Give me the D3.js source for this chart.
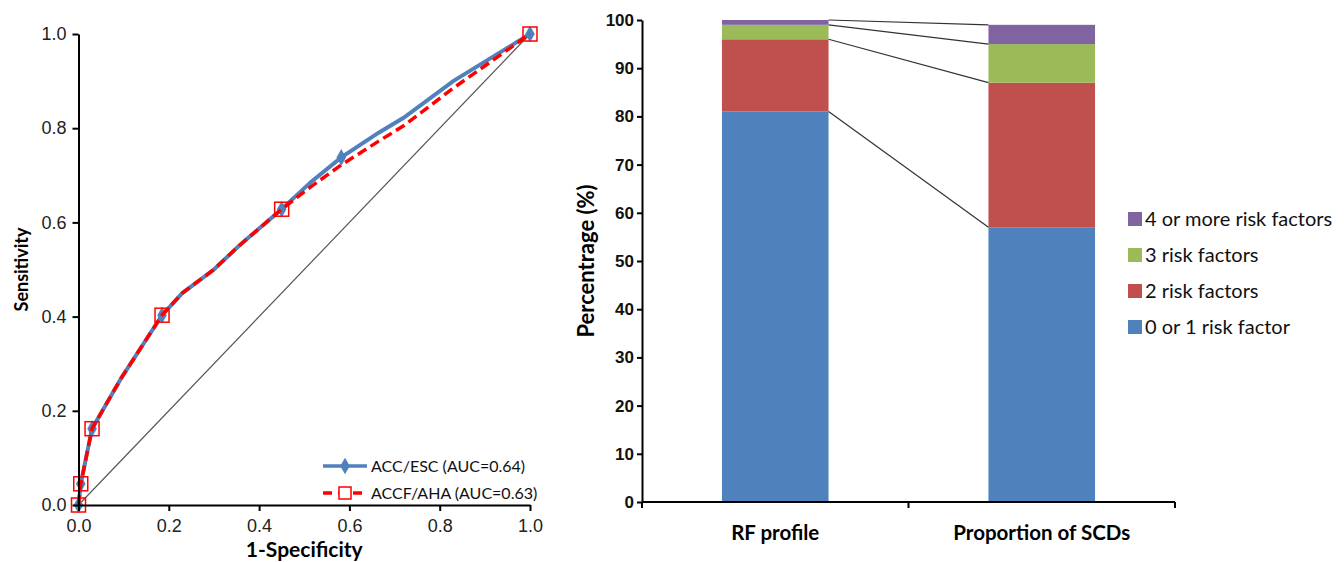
<!DOCTYPE html>
<html>
<head>
<meta charset="utf-8">
<script src="https://cdn.jsdelivr.net/npm/d3@7"></script>
<style>
  body { margin: 0; background: #fff; }
  svg { font-family: Lato, "Open Sans", sans-serif; }
  .roc-axis text { font-size: 18px; fill: #222; }
  .bar-axis text { font-size: 17px; font-weight: bold; fill: #111; }
  .domain, .tick line { stroke: #000; stroke-width: 2; }
</style>
</head>
<body>
<div id="container"></div>
<script>
// ROC curve data (1-specificity vs sensitivity)
const fpr = [0, 0.005, 0.03, 0.095, 0.185, 0.23, 0.3, 0.355, 0.45, 0.515, 0.582, 0.664, 0.72, 0.83, 1];
const accEsc = [0, 0.045, 0.162, 0.27, 0.403, 0.45, 0.5, 0.55, 0.628, 0.686, 0.738, 0.79, 0.822, 0.9, 1];
const accfAha = [0, 0.045, 0.162, 0.27, 0.403, 0.45, 0.5, 0.55, 0.628, 0.676, 0.722, 0.772, 0.805, 0.885, 1];
const escMarkers = [0, 1, 2, 4, 8, 10, 14];
const ahaMarkers = [0, 1, 2, 4, 8, 14];
const rocTicks = [0, 0.2, 0.4, 0.6, 0.8, 1.0];
const rocLegend = ['ACC/ESC (AUC=0.64)', 'ACCF/AHA (AUC=0.63)'];

// stacked bar data (%)
const categories = ['RF profile', 'Proportion of SCDs'];
const riskGroups = ['0 or 1 risk factor', '2 risk factors', '3 risk factors', '4 or more risk factors'];
const zeroOrOne = [81, 57];
const twoRf = [15, 30];
const threeRf = [3, 8];
const fourPlus = [1, 4];
const pctTicks = [0, 10, 20, 30, 40, 50, 60, 70, 80, 90, 100];
const groupColors = ['#4f81bd', '#c0504d', '#9bbb59', '#8064a2'];

const width = 1344;
const height = 562;

const svg = d3.select('#container')
    .append('svg')
    .attr('width', width)
    .attr('height', height);

// ---------- left: ROC chart ----------
const xRoc = d3.scaleLinear().domain([0, 1]).range([78.5, 530]);
const yRoc = d3.scaleLinear().domain([0, 1]).range([505, 34]);

// chance diagonal
svg.append('line')
    .attr('x1', xRoc(0)).attr('y1', yRoc(0))
    .attr('x2', xRoc(1)).attr('y2', yRoc(1))
    .style('stroke', '#555')
    .style('stroke-width', 1.2);

const escPts = fpr.map((f, i) => [f, accEsc[i]]);
const ahaPts = fpr.map((f, i) => [f, accfAha[i]]);
const rocLine = d3.line().x((d) => xRoc(d[0])).y((d) => yRoc(d[1]));

svg.append('path')
    .datum(escPts)
    .attr('d', rocLine)
    .style('fill', 'none')
    .style('stroke', '#4f81bd')
    .style('stroke-width', 4);

const diamond = d3.symbol().type(d3.symbolDiamond).size(80);

svg.selectAll('.esc-marker')
    .data(escMarkers.map((i) => escPts[i]))
    .enter()
    .append('path')
    .attr('class', 'esc-marker')
    .attr('transform', (d) => `translate(${xRoc(d[0])},${yRoc(d[1])})`)
    .attr('d', diamond)
    .style('fill', '#4f81bd');

svg.append('path')
    .datum(ahaPts)
    .attr('d', rocLine)
    .style('fill', 'none')
    .style('stroke', '#ff0000')
    .style('stroke-width', 3.5)
    .style('stroke-dasharray', '10,5');

svg.selectAll('.aha-marker')
    .data(ahaMarkers.map((i) => ahaPts[i]))
    .enter()
    .append('rect')
    .attr('class', 'aha-marker')
    .attr('x', (d) => xRoc(d[0]) - 7)
    .attr('y', (d) => yRoc(d[1]) - 7)
    .attr('width', 14)
    .attr('height', 14)
    .style('fill', 'none')
    .style('stroke', '#ff0000')
    .style('stroke-width', 1.5);

// axes
svg.append('g')
    .attr('class', 'roc-axis')
    .attr('transform', `translate(0, ${yRoc(0)})`)
    .call(d3.axisBottom(xRoc).tickValues(rocTicks).tickFormat(d3.format('.1f')).tickSize(6).tickSizeOuter(0).tickPadding(8));

svg.append('g')
    .attr('class', 'roc-axis')
    .attr('transform', `translate(${xRoc(0)}, 0)`)
    .call(d3.axisLeft(yRoc).tickValues(rocTicks).tickFormat(d3.format('.1f')).tickSize(6).tickSizeOuter(0).tickPadding(6));

svg.append('text')
    .attr('x', (xRoc(0) + xRoc(1)) / 2)
    .attr('y', 557)
    .attr('text-anchor', 'middle')
    .style('font-size', '21px')
    .style('font-weight', 'bold')
    .text('1-Specificity');

svg.append('text')
    .attr('transform', `translate(28, ${(yRoc(0) + yRoc(1)) / 2}) rotate(-90)`)
    .attr('text-anchor', 'middle')
    .style('font-size', '18px')
    .style('font-weight', 'bold')
    .text('Sensitivity');

// ROC legend
const rocLeg = svg.append('g').attr('transform', 'translate(323, 466)');
rocLeg.append('line')
    .attr('x1', 0).attr('x2', 44).attr('y1', 0).attr('y2', 0)
    .style('stroke', '#4f81bd').style('stroke-width', 3.5);
rocLeg.append('path')
    .attr('transform', 'translate(22,0)')
    .attr('d', diamond)
    .style('fill', '#4f81bd');
rocLeg.append('line')
    .attr('x1', 0).attr('x2', 44).attr('y1', 27).attr('y2', 27)
    .style('stroke', '#ff0000').style('stroke-width', 3.5)
    .style('stroke-dasharray', '9,6');
rocLeg.append('rect')
    .attr('x', 16).attr('y', 21).attr('width', 12).attr('height', 12)
    .style('fill', '#fff').style('stroke', '#ff0000').style('stroke-width', 1.5);
rocLeg.selectAll('.leg-text')
    .data(rocLegend)
    .enter()
    .append('text')
    .attr('x', 48)
    .attr('y', (d, i) => i * 27 + 6)
    .style('font-size', '16px')
    .style('fill', '#111')
    .text((d) => d);

// ---------- right: stacked bars ----------
const xBar = d3.scaleBand()
    .domain(categories)
    .range([642, 1175])
    .paddingInner(0.6)
    .paddingOuter(0.3);
const yBar = d3.scaleLinear().domain([0, 100]).range([502, 20]);

const rows = categories.map((c, i) => ({
    cat: c,
    g0: zeroOrOne[i],
    g1: twoRf[i],
    g2: threeRf[i],
    g3: fourPlus[i]
}));
const stacked = d3.stack().keys(['g0', 'g1', 'g2', 'g3'])(rows);

svg.selectAll('.layer')
    .data(stacked)
    .enter()
    .append('g')
    .attr('class', 'layer')
    .style('fill', (d, i) => groupColors[i])
    .selectAll('rect')
    .data((d) => d)
    .enter()
    .append('rect')
    .attr('x', (d) => xBar(d.data.cat))
    .attr('y', (d) => yBar(d[1]))
    .attr('width', xBar.bandwidth())
    .attr('height', (d) => yBar(d[0]) - yBar(d[1]));

// series lines joining the tops of each segment
svg.selectAll('.series-line')
    .data(stacked)
    .enter()
    .append('line')
    .attr('class', 'series-line')
    .attr('x1', xBar(categories[0]) + xBar.bandwidth())
    .attr('y1', (d) => yBar(d[0][1]))
    .attr('x2', xBar(categories[1]))
    .attr('y2', (d) => yBar(d[1][1]))
    .style('stroke', '#333')
    .style('stroke-width', 1.2);

svg.append('g')
    .attr('class', 'bar-axis')
    .attr('transform', `translate(642, 0)`)
    .call(d3.axisLeft(yBar).tickValues(pctTicks).tickSize(5).tickSizeOuter(0).tickPadding(3));

// category axis with ticks at band boundaries
const xAxisG = svg.append('g').attr('transform', `translate(0, ${yBar(0)})`);
xAxisG.append('line')
    .attr('x1', 642).attr('x2', 1175)
    .style('stroke', '#000').style('stroke-width', 2);
xAxisG.selectAll('.band-tick')
    .data([642, xBar(categories[1]) - xBar.step() * xBar.paddingInner() / 2, 1175])
    .enter()
    .append('line')
    .attr('x1', (d) => d).attr('x2', (d) => d)
    .attr('y1', 0).attr('y2', 6)
    .style('stroke', '#000').style('stroke-width', 2);
xAxisG.selectAll('.cat-label')
    .data(categories)
    .enter()
    .append('text')
    .attr('x', (d) => xBar(d) + xBar.bandwidth() / 2)
    .attr('y', 38)
    .attr('text-anchor', 'middle')
    .style('font-size', '20.5px')
    .style('font-weight', 'bold')
    .text((d) => d);

svg.append('text')
    .attr('transform', `translate(594, ${(yBar(0) + yBar(100)) / 2}) rotate(-90)`)
    .attr('text-anchor', 'middle')
    .style('font-size', '22px')
    .style('font-weight', 'bold')
    .text('Percentrage (%)');

// bar legend (top group first)
const barLeg = svg.append('g').attr('transform', 'translate(1128, 219)');
const legOrder = [3, 2, 1, 0];
legOrder.forEach((gi, row) => {
    barLeg.append('rect')
        .attr('x', 0).attr('y', row * 36 - 7)
        .attr('width', 14).attr('height', 14)
        .style('fill', groupColors[gi]);
    barLeg.append('text')
        .attr('x', 17).attr('y', row * 36 + 7)
        .style('font-size', '20px')
        .style('fill', '#111')
        .text(riskGroups[gi]);
});
</script>
</body>
</html>
